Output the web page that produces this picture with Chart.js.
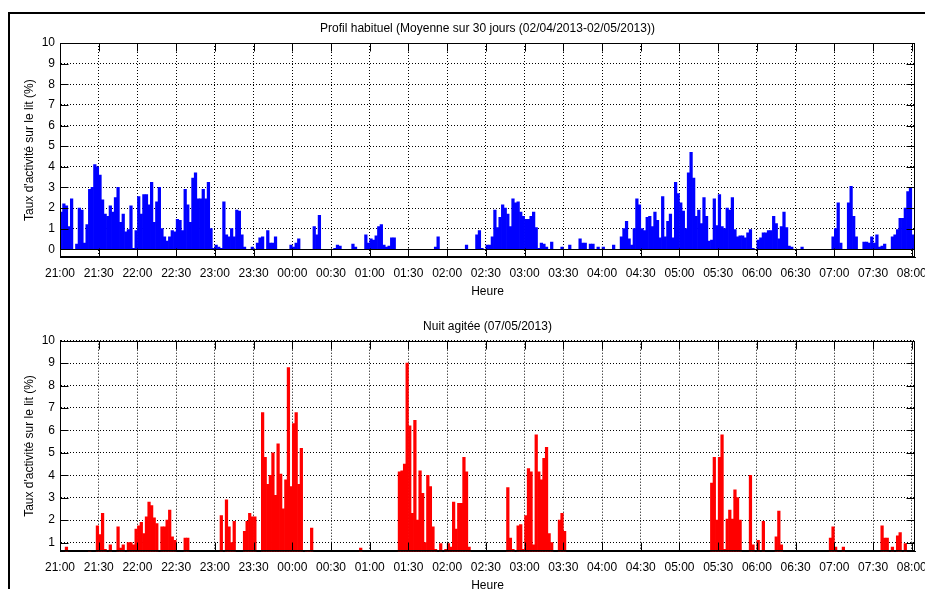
<!DOCTYPE html>
<html><head><meta charset="utf-8">
<script src="https://cdn.jsdelivr.net/npm/chart.js@4/dist/chart.umd.min.js"></script>
<style>
html,body{margin:0;padding:0;background:#fff;width:925px;height:589px;overflow:hidden;}
#frame{position:absolute;left:8px;top:12px;width:2000px;height:2000px;border-left:2px solid #000;border-top:2px solid #000;}
.c{position:absolute;left:0;}
</style></head><body>
<div id="frame"></div>
<canvas id="topChart" class="c" style="top:0px" width="925" height="300"></canvas>
<canvas id="bottomChart" class="c" style="top:294px" width="925" height="300"></canvas>
<script>
// ---- data (2-minute bins starting 21:00) ----
const binMinutes = 2;
const tickLabels = ['21:00','21:30','22:00','22:30','23:00','23:30','00:00','00:30','01:00','01:30','02:00','02:30',
  '03:00','03:30','04:00','04:30','05:00','05:30','06:00','06:30','07:00','07:30','08:00'];
const topYTicks = [0,1,2,3,4,5,6,7,8,9,10];
const bottomYTicks = [1,2,3,4,5,6,7,8,9,10];
const topTitle = 'Profil habituel (Moyenne sur 30 jours (02/04/2013-02/05/2013))';
const bottomTitle = 'Nuit agitée (07/05/2013)';
const xTitle = 'Heure';
const yTitle = "Taux d'activité sur le lit (%)";

// habitual profile (blue), one row = 30 minutes
const habitualProfile = [
  1.8,2.2,2.1,1.1,2.45,0,0.25,2.0,1.9,0.3,1.2,2.9,3.0,4.1,4.0,
  3.6,2.4,1.7,1.6,2.1,1.8,2.5,3.0,1.3,1.7,0.85,0.95,2.1,0.05,0.9,
  2.55,1.7,2.65,2.65,2.15,3.25,1.3,2.3,3.0,1.0,0.6,0.4,0.6,0.9,0.85,
  1.45,1.4,0.9,2.9,2.15,1.3,3.45,3.7,2.45,2.45,2.9,2.45,3.25,1.0,0.05,
  0.2,0.1,0.05,2.3,0.7,0.6,1.0,0.6,1.9,1.85,0.7,0.1,0,0,0.1,
  0,0.3,0.55,0.6,0,0.9,0.3,0.3,0.6,0,0,0,0,0,0.2,
  0.1,0.3,0.5,0,0,0,0,0,1.1,0.7,1.65,0,0,0,0,
  0,0.05,0.2,0.15,0,0,0,0,0.25,0.1,0,0,0,0.7,0.3,
  0.5,0.45,0.65,1.1,1.2,0.2,0.1,0.15,0.55,0.55,0,0,0,0,0,
  0,0,0,0,0,0,0,0,0,0,0.1,0.6,0,0,0,
  0,0,0,0,0,0,0,0.2,0,0,0,0.7,0.9,0.05,0,
  0.2,0.2,0.6,1.9,1.05,1.55,2.15,2.0,1.7,1.1,2.45,2.25,2.3,1.8,1.6,
  1.45,1.45,1.6,1.8,1.05,0.05,0.3,0.25,0.1,0,0.35,0,0,0,0.1,
  0,0,0.2,0,0,0,0.5,0.3,0.3,0,0.25,0.25,0,0.1,0,
  0.1,0,0,0,0.2,0,0,0.6,1.0,1.35,0.5,0.2,1.0,2.45,2.15,
  1.0,0.9,1.55,1.6,1.1,1.8,1.4,0.55,2.55,0.6,1.35,1.7,0.55,3.25,2.7,
  2.25,1.85,1.0,3.7,4.7,3.45,1.6,1.9,1.25,2.5,1.6,0.4,0.45,2.45,1.15,
  2.65,1.1,1.0,2.0,1.9,2.5,0.95,0.6,0.65,0.65,0.55,0.8,0.95,0.05,0,
  0.45,0.55,0.8,0.8,0.9,0.9,1.6,1.25,0.5,1.1,1.8,1.05,0.15,0.1,0,
  0,0,0.1,0,0,0,0,0,0,0,0,0,0,0,0.6,
  1.0,2.25,0.3,0,0,2.25,3.05,1.6,0.6,0,0,0.35,0.35,0.3,0.6,
  0.3,0.7,0.1,0.15,0.25,0,0,0.6,0.7,0.95,1.5,1.5,2.0,2.8,3.0,
  0.7
];

// agitated night (red), one row = 30 minutes
const agitatedNight = [
  0,0,0.8,0,0,0,0,0,0,0,0,0.65,0,0,1.75,
  1.35,2.3,0.7,0,0.9,0,0,1.7,0.75,0.9,0,1.0,1.0,0.9,1.6,
  1.75,1.9,1.4,2.15,2.8,2.65,2.1,1.85,0,1.7,1.7,2.0,2.45,1.25,1.1,
  0,0,0,1.2,1.2,0,0,0,0,0,0,0,0,0,0,
  0,0,2.2,0,2.9,1.7,1.0,1.95,0,0,0,1.5,1.95,2.3,2.15,
  2.15,0,0,6.8,4.8,3.6,4.0,5.0,3.1,5.4,4.05,2.5,3.8,8.8,3.5,
  6.3,6.8,3.6,5.2,0,0.65,0.65,1.65,0,0,0,0,0,0,0,
  0,0,0,0,0,0,0,0,0,0,0,0.75,0,0,0,
  0,0,0,0,0,0,0,0,0,0,0,4.15,4.2,4.5,9.0,
  6.2,2.3,6.45,2.0,4.2,3.2,1.0,4.0,3.5,1.7,0.7,0,0.95,0,0.7,
  0.95,0.8,2.8,1.6,2.75,2.75,4.8,4.15,0.8,0,0,0,0,0,0,
  0,0,0,0,0,0,0,0,3.45,1.2,0.7,0,1.75,1.8,0.7,
  2.2,4.3,4.15,0.9,5.8,4.15,3.8,4.75,5.25,1.4,1.0,0,0,2.0,2.3,
  1.5,0,0,0,0,0,0,0,0,0,0,0,0,0,0,
  0,0,0,0,0,0,0,0,0,0,0,0,0,0,0,
  0,0,0,0,0,0,0,0,0,0,0,0,0,0,0,
  0,0,0,0,0,0,0,0,0,0,0,0,3.65,4.8,2.0,
  4.8,5.8,0.7,2.05,2.45,2.05,3.35,3.0,2.0,0,0,0,4.0,0.9,0,
  1.1,0,1.95,0,0,0,0,1.25,2.4,0.9,0,0,0,0,0,
  0,0,0,0,0,0,0,0,0,0,0,0,0,1.2,1.7,
  0.8,0,0,0.8,0,0,0,0,0,0,0,0,0,0,0,
  0,0,0,1.75,1.2,1.2,0,0.8,0,1.3,1.45,0,0.95,0,0,
  0
];

// ---- chart ----
const FONT = "'Liberation Sans','Arial',sans-serif";
const FS = 12;
const xMax = 662.5;

const matlabAxes = {
  id: 'matlabAxes',
  afterDraw(chart) {
    const {ctx, chartArea: a, scales: {x, y}} = chart;
    const L = Math.round(a.left) + 0.5, R = Math.round(a.right) - 0.5;
    const T = Math.round(a.top) + 0.5, B = Math.round(a.bottom) - 0.5;
    ctx.save();
    ctx.strokeStyle = '#000';
    ctx.lineWidth = 1;
    ctx.setLineDash([]);
    ctx.beginPath();
    if (y.min < 0) {
      const p0 = Math.round(y.getPixelForValue(0)) + 0.5;
      ctx.moveTo(L, p0); ctx.lineTo(R, p0);
    }
    const tl = 8;
    x.ticks.forEach(t => {
      const px = Math.round(x.getPixelForValue(t.value)) + 0.5;
      ctx.moveTo(px, T); ctx.lineTo(px, T + tl);
      ctx.moveTo(px, B); ctx.lineTo(px, B - tl);
    });
    y.ticks.forEach(t => {
      const py = Math.round(y.getPixelForValue(t.value)) + 0.5;
      ctx.moveTo(L, py); ctx.lineTo(L + tl, py);
      ctx.moveTo(R, py); ctx.lineTo(R - tl, py);
    });
    ctx.stroke();
    ctx.strokeRect(L, T, R - L, B - T);
    ctx.restore();
  }
};

function makeChart(id, values, color, title, yMin, yTicks, titlePadding) {
  const points = values.map((v, i) => ({x: i * binMinutes + binMinutes / 2, y: v}));
  return new Chart(document.getElementById(id), {
    type: 'bar',
    data: {datasets: [{data: points, backgroundColor: color, borderWidth: 0,
      barPercentage: 1.0, categoryPercentage: 1.0}]},
    options: {
      responsive: false, animation: false, devicePixelRatio: 1,
      layout: {padding: {left: 0, right: 10, top: 0, bottom: 0}},
      plugins: {
        legend: {display: false}, tooltip: {enabled: false},
        title: {display: true, fullSize: false, text: title, color: '#000',
          font: {family: FONT, size: FS, weight: 'normal', lineHeight: 1.3}, padding: titlePadding}
      },
      scales: {
        x: {
          type: 'linear', min: 0, max: xMax, offset: false,
          grid: {offset: false, color: '#000', lineWidth: 1, drawTicks: false},
          border: {display: true, color: '#000', dash: [1, 2]},
          afterBuildTicks: s => { s.ticks = tickLabels.map((_, i) => ({value: i * 30})); },
          afterFit: s => { s.height = 42.7; s.paddingLeft = 0; s.paddingRight = 0; },
          ticks: {color: '#000', font: {family: FONT, size: FS}, padding: 9, maxRotation: 0,
            autoSkip: false, callback: v => tickLabels[Math.round(v / 30)]},
          title: {display: true, text: xTitle, color: '#000', font: {family: FONT, size: FS, lineHeight: 1.3},
            padding: {top: 0, bottom: 0.6}}
        },
        y: {
          min: yMin, max: 10,
          grid: {color: '#000', lineWidth: 1, drawTicks: false},
          border: {display: true, color: '#000', dash: [1, 2]},
          afterBuildTicks: s => { s.ticks = yTicks.map(v => ({value: v})); },
          afterFit: s => { s.width = 60; },
          ticks: {color: '#000', font: {family: FONT, size: FS}, padding: 5},
          title: {display: true, text: yTitle, color: '#000', font: {family: FONT, size: FS, lineHeight: 1.3},
            padding: {top: 21.5, bottom: 0}}
        }
      }
    },
    plugins: [matlabAxes]
  });
}

makeChart('topChart', habitualProfile, '#0000ff', topTitle, -0.39, topYTicks, {top: 20.7, bottom: 6.7});
makeChart('bottomChart', agitatedNight, '#ff0000', bottomTitle, 0.61, bottomYTicks, {top: 24.5, bottom: 6.6});
</script>
</body></html>
